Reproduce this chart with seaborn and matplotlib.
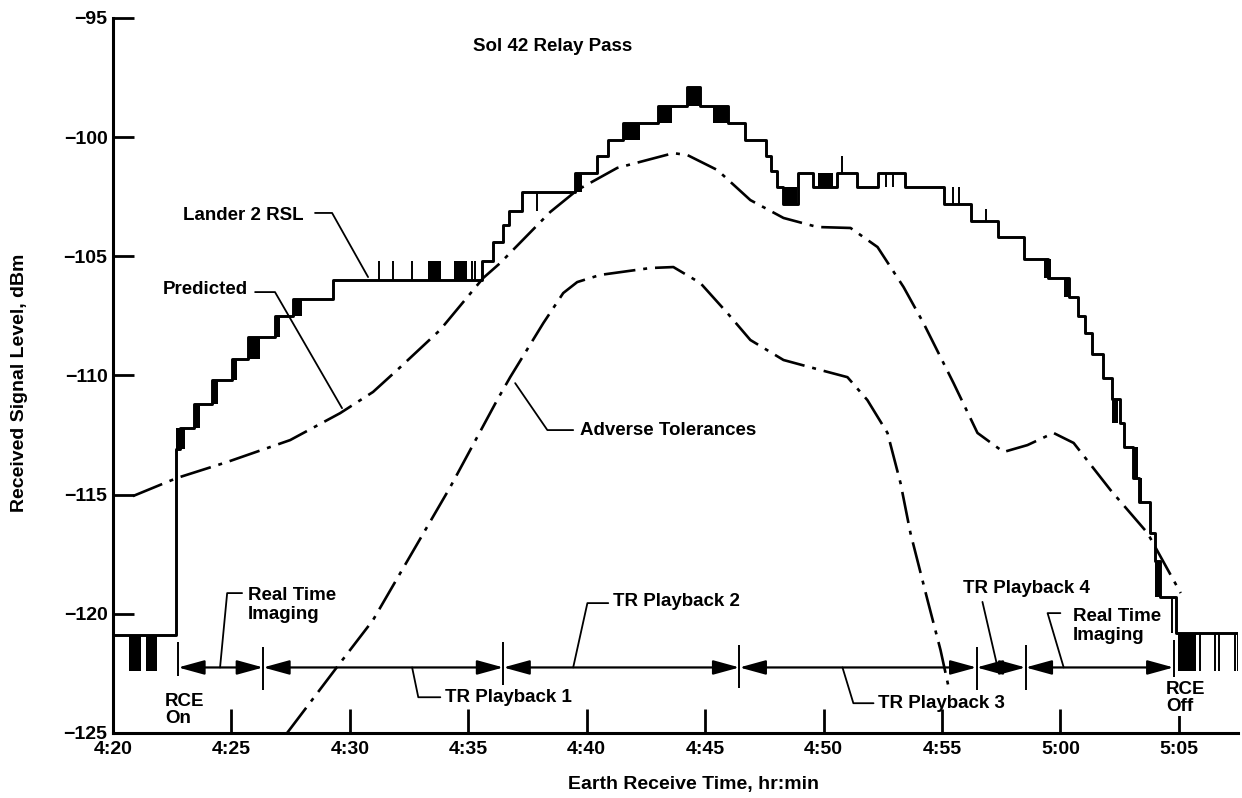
import matplotlib
matplotlib.use("Agg")
import matplotlib.pyplot as plt
import pandas as pd
import seaborn as sns

# ---------------- data (minutes after 4:20, dBm) ----------------
tick_minutes = [0, 5, 10, 15, 20, 25, 30, 35, 40, 45]
tick_labels = ["4:20", "4:25", "4:30", "4:35", "4:40", "4:45", "4:50", "4:55", "5:00", "5:05"]
y_ticks = [-125, -120, -115, -110, -105, -100, -95]

# Lander 2 RSL step trace (level holds from each time until the next)
rsl_t = [0.00, 2.66, 2.83, 3.42, 4.18, 5.03, 5.70, 6.84, 7.60, 9.29, 15.59, 16.05, 16.48, 16.70,
         17.28, 19.52, 20.45, 20.91, 21.55, 23.03, 24.25, 24.80, 25.98, 26.70, 27.55, 27.80,
         28.05, 28.31, 28.94, 29.57, 30.59, 31.43, 32.28, 33.46, 35.07, 36.21, 37.35, 38.45,
         39.46, 40.35, 40.73, 41.06, 41.32, 41.78, 42.20, 42.50, 42.70, 43.05, 43.30, 43.80,
         44.00, 44.20, 44.90, 47.49]
rsl_db = [-120.9, -113.1, -112.2, -111.2, -110.2, -109.3, -108.4, -107.5, -106.8, -106.0, -105.2,
          -104.4, -103.7, -103.1, -102.3, -101.5, -100.8, -100.1, -99.4, -98.7, -97.9, -98.7,
          -99.4, -100.1, -100.8, -101.4, -102.1, -102.8, -101.5, -102.1, -101.5, -102.1, -101.5,
          -102.1, -102.8, -103.5, -104.2, -105.1, -105.9, -106.7, -107.5, -108.2, -109.1, -110.1,
          -111.0, -112.0, -113.0, -114.3, -115.3, -116.6, -117.8, -119.3, -120.8, -120.8]

# rapid-toggle (noise) bands in the RSL record
noise_t0 = [0.68, 1.39, 2.66, 3.42, 4.18, 5.03, 5.70, 6.84, 7.60, 13.28, 14.38, 19.52, 21.55, 23.03,
            24.25, 25.35, 28.31, 29.78, 39.29, 40.14, 42.20, 43.05, 43.30, 44.00, 44.95]
noise_t1 = [1.18, 1.86, 3.05, 3.68, 4.44, 5.24, 6.21, 7.05, 7.98, 13.83, 14.96, 19.81, 22.26, 23.62,
            24.80, 25.98, 28.90, 30.42, 39.59, 40.35, 42.45, 43.26, 43.45, 44.23, 45.71]
noise_lo = [-122.4, -122.4, -113.1, -112.2, -111.2, -110.2, -109.3, -108.4, -107.5, -106.0, -106.0,
            -102.3, -100.1, -99.4, -98.7, -99.4, -102.8, -102.1, -105.9, -106.7, -112.0, -114.3,
            -115.3, -119.3, -122.4]
noise_hi = [-120.9, -120.9, -112.2, -111.2, -110.2, -109.3, -108.4, -107.5, -106.8, -105.2, -105.2,
            -101.5, -99.4, -98.7, -97.9, -98.7, -102.1, -101.5, -105.1, -105.9, -111.0, -113.0,
            -114.3, -117.8, -120.8]

# single glitches in the RSL record
spike_t = [11.24, 11.83, 12.63, 15.17, 15.30, 17.91, 30.80, 32.62, 32.95, 35.45, 35.70, 36.84,
           44.70, 45.88, 46.51, 46.68, 47.36, 47.49]
spike_from = [-106.0, -106.0, -106.0, -106.0, -106.0, -102.3, -101.5, -101.5, -101.5, -102.8,
              -102.8, -103.5, -120.8, -120.8, -120.8, -120.8, -120.8, -120.8]
spike_to = [-105.2, -105.2, -105.2, -105.2, -105.2, -103.1, -100.8, -102.1, -102.1, -102.1,
            -102.1, -103.0, -119.3, -122.4, -122.4, -122.4, -122.4, -122.4]

# Predicted curve
pred_t = [0.84, 2.70, 4.82, 7.48, 9.59, 10.98, 12.13, 13.81, 15.63, 16.35, 18.46, 19.60, 21.29,
          23.66, 24.25, 25.52, 26.91, 28.31, 29.74, 31.14, 32.28, 33.38, 34.22, 35.49, 36.50,
          37.60, 38.61, 39.71, 40.56, 42.12, 43.68, 45.08]
pred_db = [-115.06, -114.30, -113.63, -112.71, -111.58, -110.69, -109.65, -108.09, -105.91, -105.28,
           -103.14, -102.22, -101.29, -100.67, -100.75, -101.38, -102.64, -103.39, -103.77, -103.81,
           -104.61, -106.29, -107.80, -110.32, -112.41, -113.21, -112.92, -112.41, -112.83,
           -114.81, -116.61, -119.13]

# Adverse tolerances curve
adv_t = [7.35, 9.46, 10.98, 12.13, 14.24, 16.22, 16.77, 18.17, 19.01, 19.60, 20.57, 22.69, 23.66,
         24.80, 25.94, 26.91, 28.31, 29.87, 31.01, 31.85, 32.70, 33.25, 33.67, 34.39, 34.94, 35.28]
adv_db = [-125.0, -122.23, -120.26, -118.29, -114.68, -111.03, -110.07, -107.80, -106.54, -106.08,
          -105.78, -105.49, -105.45, -106.12, -107.38, -108.51, -109.35, -109.77, -110.07, -111.03,
          -112.41, -114.51, -116.61, -119.42, -121.52, -123.07]

# Activity timeline
seg_edges = [2.75, 6.34, 16.48, 26.45, 36.46, 38.53, 44.78]
timeline_db = -122.25
div_top = [-121.2, -121.4, -121.2, -121.3, -121.4, -121.3, -121.1]
div_bot = [-122.6, -123.2, -123.0, -123.1, -123.2, -123.2, -122.65]

# ---------------- style ----------------
sns.set_theme(style="white")
plt.rcParams['font.family'] = ['Liberation Sans', 'DejaVu Sans']
plt.rcParams['font.weight'] = 'bold'
plt.rcParams.update({
    'text.color': 'black', 'axes.labelcolor': 'black', 'axes.edgecolor': 'black',
    'xtick.color': 'black', 'ytick.color': 'black', 'axes.unicode_minus': True,
})

fig = plt.figure(figsize=(12.42, 7.98), dpi=100)
ax = fig.add_axes([113 / 1242, 65 / 798, 1125 / 1242, 715 / 798])

rsl = pd.DataFrame({'t': rsl_t, 'db': rsl_db})
pred = pd.DataFrame({'t': pred_t, 'db': pred_db})
adv = pd.DataFrame({'t': adv_t, 'db': adv_db})

sns.lineplot(data=rsl, x='t', y='db', ax=ax, color='black', lw=2.1,
             drawstyle='steps-post', estimator=None, sort=False)
dashdot = (0, (12, 3, 1.5, 3))
sns.lineplot(data=pred, x='t', y='db', ax=ax, color='black', lw=1.9,
             linestyle=dashdot, estimator=None, sort=False)
sns.lineplot(data=adv, x='t', y='db', ax=ax, color='black', lw=1.9,
             linestyle=dashdot, estimator=None, sort=False)

for t0, t1, lo, hi in zip(noise_t0, noise_t1, noise_lo, noise_hi):
    ax.fill_between([t0, t1], [lo, lo], [hi, hi], color='black', lw=0)
ax.vlines(spike_t, spike_from, spike_to, color='black', lw=1.4)

# timeline with arrowheads
for a, b in zip(seg_edges[:-1], seg_edges[1:]):
    ax.annotate('', xy=(b, timeline_db), xytext=(a, timeline_db),
                arrowprops=dict(arrowstyle='<|-|>,head_length=0.8,head_width=0.22',
                                mutation_scale=20, color='black', lw=1.6,
                                shrinkA=0, shrinkB=0))
ax.vlines(seg_edges, div_bot, div_top, color='black', lw=1.4)

# ---------------- annotations ----------------
fs = 13.5
txt = dict(fontsize=fs, fontweight='bold', color='black')
ax.text(18.55, -96.2, 'Sol 42 Relay Pass', ha='center', va='center', **txt)
ax.text(8.03, -103.27, 'Lander 2 RSL', ha='right', va='center', **txt)
ax.text(5.70, -106.41, 'Predicted', ha='right', va='center', **txt)
ax.text(19.73, -112.29, 'Adverse Tolerances', ha='left', va='center', **txt)
ax.text(5.70, -119.63, 'Real Time\nImaging', ha='left', va='center', linespacing=1.1, **txt)
ax.text(14.03, -123.49, 'TR Playback 1', ha='left', va='center', **txt)
ax.text(21.12, -119.50, 'TR Playback 2', ha='left', va='center', **txt)
ax.text(32.32, -123.75, 'TR Playback 3', ha='left', va='center', **txt)
ax.text(35.91, -118.92, 'TR Playback 4', ha='left', va='center', **txt)
ax.text(40.52, -120.51, 'Real Time\nImaging', ha='left', va='center', linespacing=1.1, **txt)
ax.text(2.20, -124.04, 'RCE\nOn', ha='left', va='center', linespacing=1.05, **txt)
ax.text(44.45, -123.53, 'RCE\nOff', ha='left', va='center', linespacing=1.05,
        bbox=dict(facecolor='white', edgecolor='none', pad=0.5), zorder=4, **txt)

leaders = [
    [(8.53, -103.18), (9.25, -103.18), (10.77, -105.87)],
    [(6.00, -106.50), (6.84, -106.50), (9.67, -111.37)],
    [(19.43, -112.29), (18.34, -112.29), (16.98, -110.32)],
    [(5.45, -119.13), (4.82, -119.13), (4.52, -122.25)],
    [(13.82, -123.50), (12.89, -123.50), (12.63, -122.25)],
    [(20.91, -119.55), (20.03, -119.55), (19.43, -122.25)],
    [(32.11, -123.75), (31.26, -123.75), (30.80, -122.25)],
    [(36.71, -119.50), (37.35, -122.25)],
    [(40.00, -119.97), (39.46, -119.97), (40.14, -122.25)],
]
for pts in leaders:
    xs, ys = zip(*pts)
    ax.plot(xs, ys, color='black', lw=1.3)

# ---------------- axes ----------------
ax.set_xlim(0, 47.5)
ax.set_ylim(-125, -95)
ax.set_xticks(tick_minutes)
ax.set_xticklabels(tick_labels)
ax.set_yticks(y_ticks)
for s in ['top', 'right']:
    ax.spines[s].set_visible(False)
for s in ['left', 'bottom']:
    ax.spines[s].set_linewidth(2.2)
    ax.spines[s].set_color('black')
ax.tick_params(bottom=True, left=True, direction='in', width=2.0, labelsize=14, colors='black')
ax.tick_params(axis='y', length=15, pad=4)
ax.tick_params(axis='x', length=17, pad=6)
for lab in ax.get_xticklabels() + ax.get_yticklabels():
    lab.set_fontweight('bold')

ax.set_xlabel('Earth Receive Time, hr:min', fontsize=14, fontweight='bold')
ax.xaxis.set_label_coords(0.516, -0.06)
ax.set_ylabel('Received Signal Level, dBm', fontsize=14, fontweight='bold')
ax.yaxis.set_label_coords(-0.0756, 0.49)

fig.savefig('out.png', dpi=100, facecolor='white')
